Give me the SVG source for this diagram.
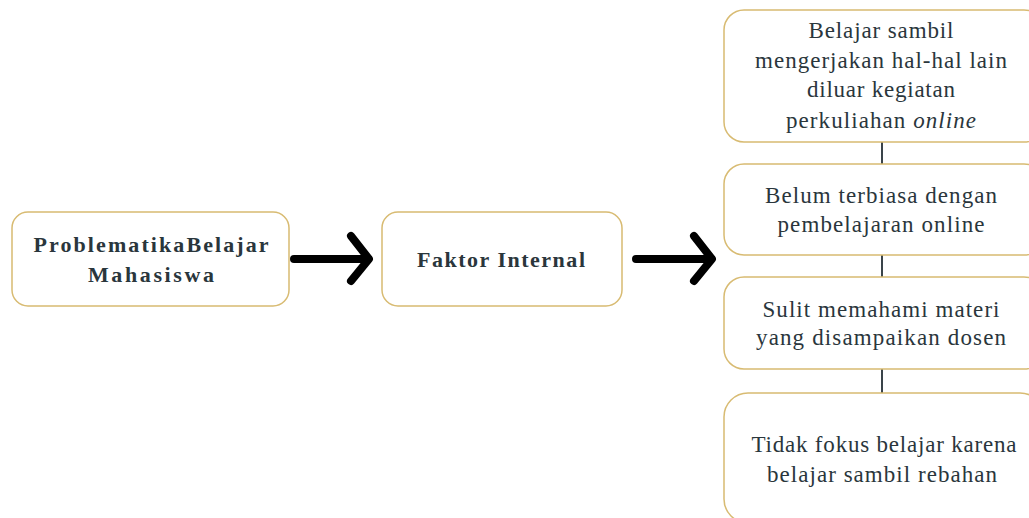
<svg xmlns="http://www.w3.org/2000/svg" width="1029" height="518" viewBox="0 0 1029 518">
<style>
.box{fill:#fff;stroke:#d8bb72;stroke-width:1.5}
.t{font-family:"Liberation Serif","Times New Roman",serif;font-size:23px;fill:#2a363c;text-anchor:middle}
.b{font-weight:bold;font-size:22px}
.arr{fill:none;stroke:#000;stroke-width:8;stroke-linecap:round;stroke-linejoin:round}
.ln{stroke:#3a444a;stroke-width:2}
</style>
<rect width="1029" height="518" fill="#fff"/>
<g id="connectors">
<path class="arr" d="M294 259H367M351 236L369 259L351 281"/>
<path class="arr" d="M636 259H709M694 236L712 259L694 281"/>
<line class="ln" x1="882" y1="142" x2="882" y2="164"/>
<line class="ln" x1="882" y1="255" x2="882" y2="277"/>
<line class="ln" x1="882" y1="369" x2="882" y2="393"/>
</g>
<g id="n1">
<rect class="box" x="12" y="212" width="277" height="94" rx="16"/>
<text class="t b" x="151" y="252" textLength="235" lengthAdjust="spacing">ProblematikaBelajar</text>
<text class="t b" x="151" y="282" textLength="126" lengthAdjust="spacing">Mahasiswa</text>
</g>
<g id="n2">
<rect class="box" x="382" y="212" width="240" height="94" rx="16"/>
<text class="t b" x="501" y="267" textLength="168" lengthAdjust="spacing">Faktor Internal</text>
</g>
<g id="n3">
<rect class="box" x="724" y="10" width="320" height="132" rx="20"/>
<text class="t" x="881" y="38" textLength="145" lengthAdjust="spacing">Belajar sambil</text>
<text class="t" x="881" y="68" textLength="252" lengthAdjust="spacing">mengerjakan hal-hal lain</text>
<text class="t" x="881" y="97" textLength="148" lengthAdjust="spacing">diluar kegiatan</text>
<text class="t" x="881" y="128" textLength="190" lengthAdjust="spacing">perkuliahan <tspan font-style="italic">online</tspan></text>
</g>
<g id="n4">
<rect class="box" x="724" y="164" width="320" height="91" rx="20"/>
<text class="t" x="881" y="203" textLength="232" lengthAdjust="spacing">Belum terbiasa dengan</text>
<text class="t" x="881" y="232" textLength="207" lengthAdjust="spacing">pembelajaran online</text>
</g>
<g id="n5">
<rect class="box" x="724" y="277" width="320" height="92" rx="20"/>
<text class="t" x="881" y="317" textLength="237" lengthAdjust="spacing">Sulit memahami materi</text>
<text class="t" x="881" y="345" textLength="250" lengthAdjust="spacing">yang disampaikan dosen</text>
</g>
<g id="n6">
<rect class="box" x="724" y="393" width="320" height="130" rx="24"/>
<text class="t" x="884" y="452" textLength="265" lengthAdjust="spacing">Tidak fokus belajar karena</text>
<text class="t" x="882" y="482" textLength="230" lengthAdjust="spacing">belajar sambil rebahan</text>
</g>
</svg>
